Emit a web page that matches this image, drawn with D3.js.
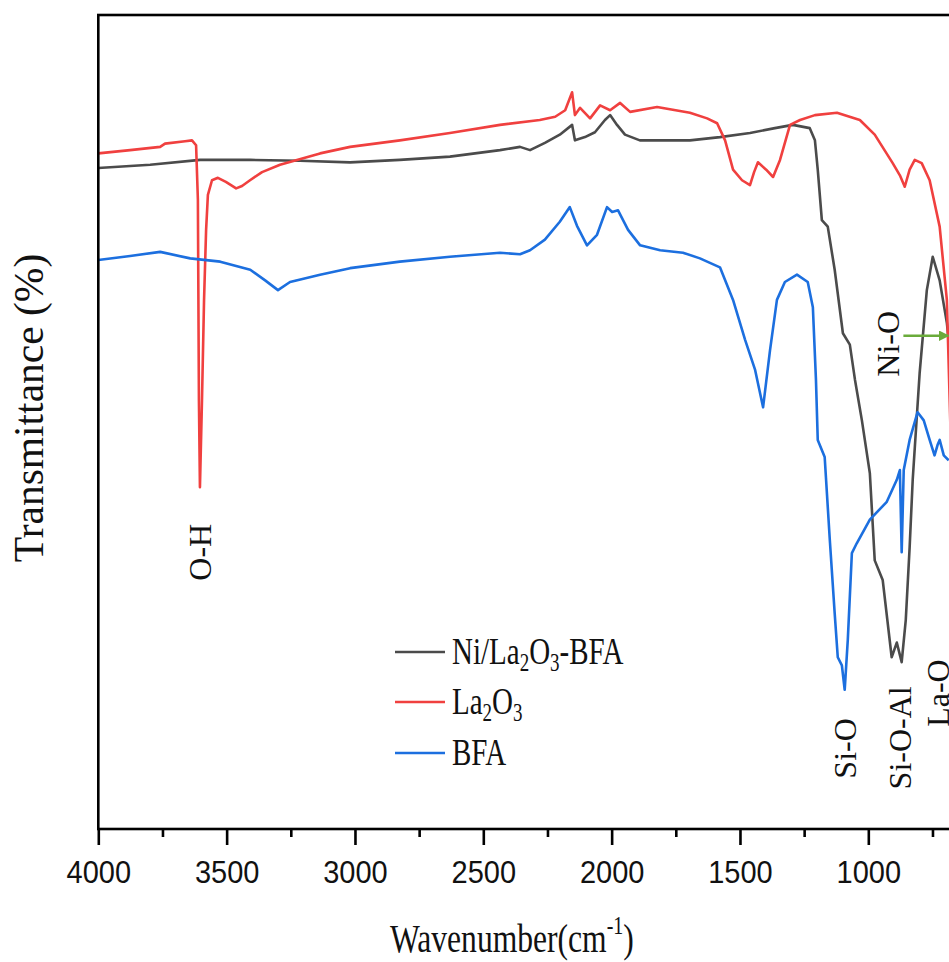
<!DOCTYPE html>
<html>
<head>
<meta charset="utf-8">
<script src="https://cdn.jsdelivr.net/npm/d3@7"></script>
<style>
  html, body { margin: 0; padding: 0; background: #fff; overflow: hidden; }
  svg { display: block; }
</style>
</head>
<body>
<svg id="chart"></svg>
<script>
// FTIR spectra, [wavenumber cm-1, transmittance a.u.]
const niLaBfa = [
  [4000, 81.2], [3798, 81.6], [3603, 82.2], [3408, 82.2], [3214, 82.1], [3019, 81.9],
  [2825, 82.2], [2630, 82.6], [2435, 83.4], [2357, 83.8], [2318, 83.4], [2260, 84.3],
  [2202, 85.3], [2154, 86.5], [2143, 84.6], [2104, 85.0], [2065, 85.6], [2026, 87.1],
  [2006, 87.7], [1979, 86.5], [1948, 85.3], [1890, 84.6], [1812, 84.6], [1695, 84.6],
  [1578, 85.0], [1461, 85.5], [1364, 86.1], [1294, 86.5], [1228, 86.1], [1208, 84.6],
  [1197, 81.0], [1181, 74.8], [1158, 74.0], [1131, 68.7], [1099, 60.9], [1072, 59.5],
  [1052, 55.2], [1025, 50.2], [994, 43.7], [975, 33.0], [944, 30.6], [909, 21.1],
  [889, 22.9], [870, 20.5], [854, 25.7], [839, 34.6], [827, 42.9], [800, 56.0],
  [772, 66.2], [749, 70.3], [722, 67.4], [694, 62.2], [675, 56.4]
];

const la2o3 = [
  [4000, 83.0], [3876, 83.4], [3759, 83.8], [3740, 84.2], [3662, 84.5], [3635, 84.6],
  [3619, 84.0], [3612, 77.3], [3608, 52.7], [3604, 42.0], [3596, 52.7], [3588, 65.0],
  [3580, 73.6], [3573, 77.9], [3557, 79.7], [3534, 80.0], [3503, 79.5], [3463, 78.7],
  [3440, 79.0], [3409, 79.7], [3362, 80.7], [3292, 81.6], [3136, 83.0], [3019, 83.8],
  [2825, 84.6], [2630, 85.5], [2435, 86.5], [2280, 87.1], [2220, 87.5], [2181, 88.3],
  [2154, 90.5], [2143, 87.7], [2123, 88.6], [2084, 87.3], [2045, 88.9], [2006, 88.3],
  [1967, 89.2], [1928, 88.1], [1823, 88.7], [1695, 88.0], [1628, 87.3], [1589, 86.7],
  [1558, 84.6], [1527, 81.0], [1492, 79.7], [1461, 79.1], [1445, 80.7], [1430, 81.9],
  [1398, 81.0], [1371, 80.1], [1344, 82.2], [1305, 86.5], [1266, 87.1], [1208, 87.7],
  [1122, 88.0], [1033, 87.1], [975, 85.3], [905, 81.8], [877, 80.3], [858, 78.9],
  [839, 81.0], [819, 82.2], [792, 81.8], [761, 79.7], [722, 74.0], [694, 65.0],
  [683, 52.7], [672, 40.4]
];

const bfa = [
  [4000, 69.9], [3876, 70.4], [3759, 70.9], [3642, 70.1], [3525, 69.7], [3408, 68.7],
  [3350, 67.4], [3300, 66.2], [3253, 67.2], [3136, 68.1], [3019, 68.9], [2825, 69.7],
  [2630, 70.3], [2435, 70.8], [2357, 70.6], [2318, 71.1], [2260, 72.4], [2202, 74.6],
  [2163, 76.4], [2135, 74.1], [2096, 71.7], [2057, 73.0], [2018, 76.4], [1998, 75.8],
  [1975, 76.0], [1936, 73.6], [1889, 71.7], [1811, 71.1], [1722, 70.8], [1656, 70.1],
  [1578, 69.0], [1527, 65.0], [1480, 60.1], [1441, 56.4], [1410, 51.8], [1383, 58.8],
  [1356, 65.0], [1325, 67.2], [1278, 68.1], [1236, 67.2], [1216, 64.1], [1204, 55.2],
  [1197, 47.8], [1170, 45.7], [1150, 35.5], [1131, 26.5], [1119, 21.1], [1103, 20.1],
  [1092, 17.1], [1080, 23.2], [1064, 33.9], [1045, 35.1], [994, 38.0], [928, 40.2],
  [889, 42.9], [877, 44.1], [870, 34.0], [862, 44.1], [839, 47.8], [808, 51.2],
  [784, 50.2], [761, 47.8], [742, 45.9], [730, 47.2], [722, 47.8], [706, 45.9],
  [687, 45.3]
];

const seriesNames = ['Ni/La2O3-BFA', 'La2O3', 'BFA'];
const seriesColors = ['#4b4b4b', '#f0403f', '#1c6fdf'];
const majorTicks = [4000, 3500, 3000, 2500, 2000, 1500, 1000];
const minorTicks = [3750, 3250, 2750, 2250, 1750, 1250, 750];

// band labels: [text, wavenumber, transmittance at label centre]
const bandLabels = [
  ['O-H', 3604, 34.0],
  ['Ni-O', 923, 59.6],
  ['Si-O', 1091, 9.9],
  ['Si-O-Al', 877, 11.2],
  ['La-O', 729, 16.7]
];

const W = 949, H = 962;
const margin = { top: 15, left: 98.3, bottom: 829 };
const serif = '"Liberation Serif", "Times New Roman", serif';
const sans = '"Liberation Sans", Arial, sans-serif';

const svg = d3.select('#chart').attr('width', W).attr('height', H);

const x = d3.scaleLinear().domain([4000, 400]).range([margin.left, margin.left + 3600 * 0.25667]);
const y = d3.scaleLinear().domain([0, 100]).range([margin.bottom, margin.bottom - 814]);

const line = d3.line().x(d => x(d[0])).y(d => y(d[1]));

const plot = svg.append('g');
[niLaBfa, la2o3, bfa].forEach((data, i) => {
    plot.append('path')
        .datum(data)
        .attr('fill', 'none')
        .attr('stroke', seriesColors[i])
        .attr('stroke-width', 2.6)
        .attr('stroke-linejoin', 'round')
        .attr('d', line);
});

// frame
svg.append('rect')
    .attr('x', x(4000)).attr('y', y(100))
    .attr('width', x(400) - x(4000)).attr('height', y(0) - y(100))
    .attr('fill', 'none').attr('stroke', '#000').attr('stroke-width', 2.6);

// x axis
const xAxis = svg.append('g')
    .attr('transform', `translate(0,${margin.bottom})`)
    .call(d3.axisBottom(x).tickValues(majorTicks).tickSize(16).tickSizeOuter(0).tickFormat(d3.format('d')));
xAxis.select('.domain').remove();
xAxis.selectAll('line').attr('stroke', '#000').attr('stroke-width', 2.6);
xAxis.selectAll('text')
    .attr('y', 0).attr('dy', null)
    .attr('transform', 'translate(0,54) scale(1,1.1)')
    .attr('font-family', sans).attr('font-size', 29).attr('fill', '#111');

svg.append('g')
    .attr('transform', `translate(0,${margin.bottom})`)
    .call(d3.axisBottom(x).tickValues(minorTicks).tickSize(8).tickFormat(''))
    .call(g => g.select('.domain').remove())
    .selectAll('line').attr('stroke', '#000').attr('stroke-width', 2.6);

// axis titles
const xTitle = svg.append('text')
    .attr('transform', 'translate(390,952) scale(1,1.3)')
    .attr('font-family', serif).attr('font-size', 31.6).attr('fill', '#111');
xTitle.append('tspan').text('Wavenumber(cm');
xTitle.append('tspan').attr('font-size', 20).attr('dy', -14).text('-1');
xTitle.append('tspan').attr('dy', 14).text(')');

svg.append('text')
    .attr('transform', 'translate(43,408) rotate(-90)')
    .attr('text-anchor', 'middle')
    .attr('font-family', serif).attr('font-size', 41.5).attr('fill', '#111')
    .text('Transmittance (%)');

// band labels (rotated)
bandLabels.forEach(([t, wn, v]) => {
    svg.append('text')
        .attr('transform', `translate(${x(wn) + 11},${y(v)}) rotate(-90)`)
        .attr('text-anchor', 'middle')
        .attr('font-family', serif).attr('font-size', 32).attr('fill', '#111')
        .text(t);
});

// Ni-O arrow
const arrowY = y(60.6);
svg.append('defs').append('marker')
    .attr('id', 'arrow').attr('viewBox', '0 0 10 10')
    .attr('refX', 9).attr('refY', 5)
    .attr('markerWidth', 4).attr('markerHeight', 4).attr('orient', 'auto')
    .append('path').attr('d', 'M0,0 L10,5 L0,10 Z').attr('fill', '#6aab3b');
svg.append('line')
    .attr('x1', x(688) - 45).attr('x2', x(688))
    .attr('y1', arrowY).attr('y2', arrowY)
    .attr('stroke', '#6aab3b').attr('stroke-width', 2.6)
    .attr('marker-end', 'url(#arrow)');

// legend
const legend = svg.append('g');
const legendRows = [652, 702, 753];
seriesNames.forEach((name, i) => {
    const ly = legendRows[i];
    legend.append('line')
        .attr('x1', 395).attr('x2', 445).attr('y1', ly).attr('y2', ly)
        .attr('stroke', seriesColors[i]).attr('stroke-width', 2.6);
    const t = legend.append('text')
        .attr('transform', `translate(452,${ly + 12}) scale(1,1.3)`)
        .attr('font-family', serif).attr('font-size', 29).attr('fill', '#111');
    // digits drawn as subscripts
    let shift = 0;
    name.split(/(\d)/).filter(p => p).forEach(p => {
        const sub = /^\d$/.test(p);
        const target = sub ? 5 : 0;
        t.append('tspan')
            .attr('font-size', sub ? 19 : 29)
            .attr('dy', target - shift)
            .text(p);
        shift = target;
    });
});
</script>
</body>
</html>
